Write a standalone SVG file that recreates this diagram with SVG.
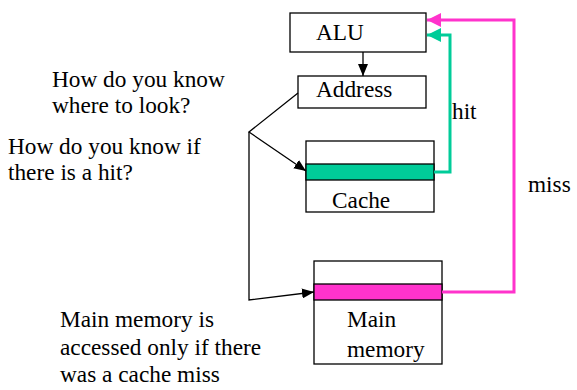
<svg xmlns="http://www.w3.org/2000/svg" width="577" height="390" viewBox="0 0 577 390">
<style>
text{font-family:'Liberation Serif','Times New Roman',Times,'DejaVu Serif',serif;font-size:23.3px;fill:#000}
.box{fill:#fff;stroke:#000;stroke-width:1.3}
.ln{fill:none;stroke:#000;stroke-width:1.3}
.g{fill:none;stroke:#00CC99;stroke-width:3}
.m{fill:none;stroke:#FF33CC;stroke-width:3}
</style>
<defs>
<marker id="ab" viewBox="0 0 12 10" refX="12" refY="5" markerWidth="12" markerHeight="10" markerUnits="userSpaceOnUse" orient="auto"><path d="M0,0 L12,5 L0,10 Z" fill="#000"/></marker>
<marker id="ag" viewBox="0 0 14 14" refX="14" refY="7" markerWidth="14" markerHeight="14" markerUnits="userSpaceOnUse" orient="auto"><path d="M0,0 L14,7 L0,14 Z" fill="#00CC99"/></marker>
<marker id="am" viewBox="0 0 14 14" refX="14" refY="7" markerWidth="14" markerHeight="14" markerUnits="userSpaceOnUse" orient="auto"><path d="M0,0 L14,7 L0,14 Z" fill="#FF33CC"/></marker>
</defs>
<g id="alu"><rect class="box" x="290" y="13" width="136" height="39"/><text x="316" y="40" font-family="Liberation Serif, serif">ALU</text></g>
<g id="address"><rect class="box" x="298" y="76" width="128" height="32"/><text x="316" y="97">Address</text></g>
<g id="cache"><rect class="box" x="306" y="141" width="128" height="71"/><rect x="306" y="164" width="128" height="16" fill="#00CC99" stroke="#000" stroke-width="1.3"/><text x="332" y="208">Cache</text></g>
<g id="mainmem"><rect class="box" x="314" y="261" width="128" height="103"/><rect x="314" y="284" width="128" height="16" fill="#FF33CC" stroke="#000" stroke-width="1.3"/><text x="347" y="327">Main</text><text x="347" y="357">memory</text></g>
<g id="connectors">
<line class="ln" x1="363" y1="52" x2="363" y2="76" marker-end="url(#ab)"/>
<polyline class="ln" points="298,93 249,132 306,171" marker-end="url(#ab)"/>
<polyline class="ln" points="249,132 249,300 314,292" marker-end="url(#ab)"/>
<polyline class="g" points="434,172 450,172 450,35 427,35" marker-end="url(#ag)"/>
<polyline class="m" points="442,292 514,292 514,20 427,20" marker-end="url(#am)"/>
</g>
<g id="labels">
<text x="452" y="119">hit</text>
<text x="528" y="192">miss</text>
<text x="52" y="87">How do you know</text>
<text x="52" y="113">where to look?</text>
<text x="8" y="154">How do you know if</text>
<text x="8" y="180">there is a hit?</text>
<text x="60" y="327">Main memory is</text>
<text x="60" y="355">accessed only if there</text>
<text x="60" y="382">was a cache miss</text>
</g>
</svg>
